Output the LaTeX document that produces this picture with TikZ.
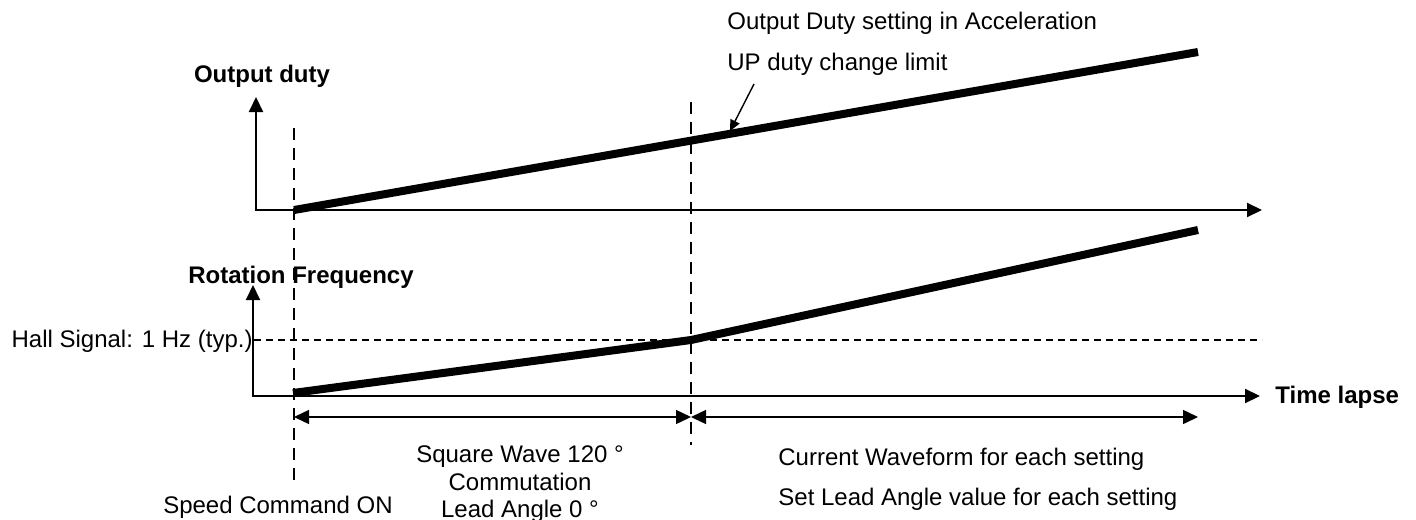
\documentclass[tikz,border=0pt]{standalone}
\usepackage{fontspec}
\setmainfont{Liberation Sans}
\usetikzlibrary{arrows.meta}
\begin{document}
\begin{tikzpicture}[x=0.5pt,y=-0.5pt,
  axisline/.style={line width=1pt,{Triangle[length=7.5pt,width=7pt]}-{Triangle[length=7.5pt,width=7pt]}},
  curve/.style={line width=4pt,line join=round},
  vdash/.style={line width=0.7pt,dash pattern=on 6pt off 4pt},
  hdash/.style={line width=0.6pt,dash pattern=on 3.5pt off 2.5pt},
  dim/.style={line width=0.7pt,{Triangle[length=7.5pt,width=7pt]}-{Triangle[length=7.5pt,width=7pt]}},
  note/.style={line width=0.7pt,-{Triangle[length=5.5pt,width=5pt]}},
  lbl/.style={font=\fontsize{12}{14}\selectfont, inner sep=0pt, anchor=base},
  blbl/.style={font=\fontsize{12}{14}\selectfont\bfseries, inner sep=0pt, anchor=base}]
\useasboundingbox (0,0) rectangle (1416,519);
% top axes
\coordinate (y1) at (256,97);
\coordinate (o1) at (256,210);
\coordinate (x1) at (1262,210);
\draw[axisline] (y1) -- (o1) -- (x1);
% bottom axes
\coordinate (y2) at (253,285);
\coordinate (o2) at (253,396);
\coordinate (x2) at (1260,396);
\draw[axisline] (y2) -- (o2) -- (x2);
% dashed verticals
\coordinate (d1t) at (294,128);
\coordinate (d1b) at (294,482);
\coordinate (d2t) at (691,102);
\coordinate (d2b) at (691,445);
\draw[vdash] (d1t) -- (d1b);
\draw[vdash] (d2t) -- (d2b);
% hall level
\node[lbl,anchor=base east] (hall) at (253,347) {Hall Signal: 1 Hz (typ.)};
\coordinate (halls) at (254,340);
\coordinate (hallend) at (1262,340);
\draw[hdash] (halls) -- (hallend);
% top curve
\coordinate (c1s) at (294,210);
\coordinate (c1e) at (1198,52);
\draw[curve] (c1s) -- (c1e);
% bottom curve
\coordinate (c2s) at (293,393);
\coordinate (c2k) at (691,340);
\coordinate (c2e) at (1198,230);
\draw[curve] (c2s) -- (c2k) -- (c2e);
% dimension arrows
\coordinate (a1) at (294,417);
\coordinate (a2) at (691,417);
\coordinate (a3) at (1198,417);
\draw[dim] (a1) -- (a2);
\draw[dim] (a2) -- (a3);
% annotation
\node[lbl,anchor=base west] (t1) at (727,30) {Output Duty setting in Acceleration};
\node[lbl,anchor=base west] (t2) at (727,70) {UP duty change limit};
\coordinate (n1) at (754,84);
\coordinate (n2) at (730,131);
\draw[note] (n1) -- (n2);
% labels
\node[blbl] (od) at (262,83) {Output duty};
\node[blbl] (rf) at (301,283) {Rotation Frequency};
\node[blbl,anchor=base west] (tl) at (1275,403) {Time lapse};
\node[lbl] (sq1) at (520,462) {Square Wave 120 °};
\node[lbl] (sq2) at (520,490) {Commutation};
\node[lbl] (sq3) at (520,517) {Lead Angle 0 °};
\node[lbl] (sc) at (278,513) {Speed Command ON};
\node[lbl,anchor=base west] (cw) at (778,465) {Current Waveform for each setting};
\node[lbl,anchor=base west] (sl) at (778,505) {Set Lead Angle value for each setting};
\end{tikzpicture}
\end{document}
